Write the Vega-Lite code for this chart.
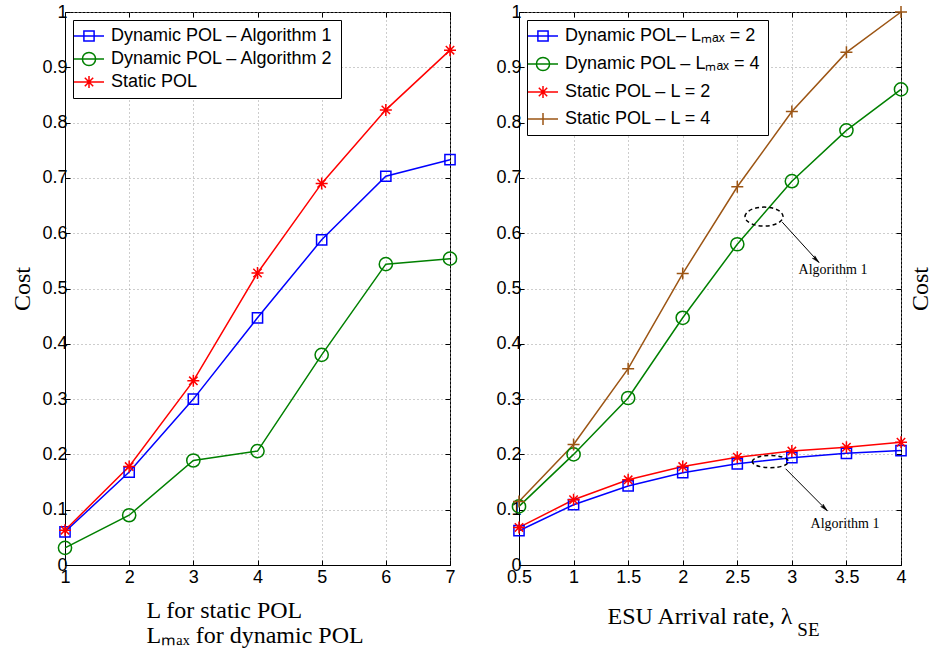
{
  "$schema": "https://vega.github.io/schema/vega-lite/v6.json",
  "padding": {"left": 10, "top": 2, "right": 0, "bottom": 0},
  "background": "white",
  "config": {
    "view": {"stroke": "black", "strokeWidth": 1},
    "axis": {
      "labelFont": "Liberation Sans", "labelFontSize": 18, "labelColor": "black", "labelFlush": false, "labelOverlap": false,
      "titleFont": "Liberation Serif", "titleFontSize": 24, "titleFontWeight": "normal", "titleColor": "black",
      "domainColor": "black", "tickColor": "black", "tickSize": -5, "labelPadding": 8,
      "gridColor": "#9a9a9a", "gridDash": [1, 3], "gridWidth": 1
    },
    "legend": {
      "labelFont": "Liberation Sans", "labelFontSize": 18, "labelColor": "black", "labelLimit": 400
    }
  },
  "datasets": {
    "left": [
      {"x": 1, "cost": 0.060, "series": "Dynamic POL – Algorithm 1"},
      {"x": 2, "cost": 0.168, "series": "Dynamic POL – Algorithm 1"},
      {"x": 3, "cost": 0.300, "series": "Dynamic POL – Algorithm 1"},
      {"x": 4, "cost": 0.447, "series": "Dynamic POL – Algorithm 1"},
      {"x": 5, "cost": 0.588, "series": "Dynamic POL – Algorithm 1"},
      {"x": 6, "cost": 0.703, "series": "Dynamic POL – Algorithm 1"},
      {"x": 7, "cost": 0.733, "series": "Dynamic POL – Algorithm 1"},
      {"x": 1, "cost": 0.031, "series": "Dynamic POL – Algorithm 2"},
      {"x": 2, "cost": 0.090, "series": "Dynamic POL – Algorithm 2"},
      {"x": 3, "cost": 0.189, "series": "Dynamic POL – Algorithm 2"},
      {"x": 4, "cost": 0.206, "series": "Dynamic POL – Algorithm 2"},
      {"x": 5, "cost": 0.380, "series": "Dynamic POL – Algorithm 2"},
      {"x": 6, "cost": 0.544, "series": "Dynamic POL – Algorithm 2"},
      {"x": 7, "cost": 0.554, "series": "Dynamic POL – Algorithm 2"},
      {"x": 1, "cost": 0.063, "series": "Static POL"},
      {"x": 2, "cost": 0.178, "series": "Static POL"},
      {"x": 3, "cost": 0.333, "series": "Static POL"},
      {"x": 4, "cost": 0.528, "series": "Static POL"},
      {"x": 5, "cost": 0.690, "series": "Static POL"},
      {"x": 6, "cost": 0.823, "series": "Static POL"},
      {"x": 7, "cost": 0.931, "series": "Static POL"}
    ],
    "right": [
      {"x": 0.5, "cost": 0.062, "series": "Dynamic POL– Lₘₐₓ = 2"},
      {"x": 1.0, "cost": 0.109, "series": "Dynamic POL– Lₘₐₓ = 2"},
      {"x": 1.5, "cost": 0.143, "series": "Dynamic POL– Lₘₐₓ = 2"},
      {"x": 2.0, "cost": 0.167, "series": "Dynamic POL– Lₘₐₓ = 2"},
      {"x": 2.5, "cost": 0.183, "series": "Dynamic POL– Lₘₐₓ = 2"},
      {"x": 3.0, "cost": 0.194, "series": "Dynamic POL– Lₘₐₓ = 2"},
      {"x": 3.5, "cost": 0.202, "series": "Dynamic POL– Lₘₐₓ = 2"},
      {"x": 4.0, "cost": 0.207, "series": "Dynamic POL– Lₘₐₓ = 2"},
      {"x": 0.5, "cost": 0.106, "series": "Dynamic POL – Lₘₐₓ = 4"},
      {"x": 1.0, "cost": 0.200, "series": "Dynamic POL – Lₘₐₓ = 4"},
      {"x": 1.5, "cost": 0.302, "series": "Dynamic POL – Lₘₐₓ = 4"},
      {"x": 2.0, "cost": 0.447, "series": "Dynamic POL – Lₘₐₓ = 4"},
      {"x": 2.5, "cost": 0.580, "series": "Dynamic POL – Lₘₐₓ = 4"},
      {"x": 3.0, "cost": 0.694, "series": "Dynamic POL – Lₘₐₓ = 4"},
      {"x": 3.5, "cost": 0.786, "series": "Dynamic POL – Lₘₐₓ = 4"},
      {"x": 4.0, "cost": 0.860, "series": "Dynamic POL – Lₘₐₓ = 4"},
      {"x": 0.5, "cost": 0.068, "series": "Static POL – L = 2"},
      {"x": 1.0, "cost": 0.118, "series": "Static POL – L = 2"},
      {"x": 1.5, "cost": 0.154, "series": "Static POL – L = 2"},
      {"x": 2.0, "cost": 0.178, "series": "Static POL – L = 2"},
      {"x": 2.5, "cost": 0.195, "series": "Static POL – L = 2"},
      {"x": 3.0, "cost": 0.206, "series": "Static POL – L = 2"},
      {"x": 3.5, "cost": 0.213, "series": "Static POL – L = 2"},
      {"x": 4.0, "cost": 0.222, "series": "Static POL – L = 2"},
      {"x": 0.5, "cost": 0.115, "series": "Static POL – L = 4"},
      {"x": 1.0, "cost": 0.218, "series": "Static POL – L = 4"},
      {"x": 1.5, "cost": 0.355, "series": "Static POL – L = 4"},
      {"x": 2.0, "cost": 0.527, "series": "Static POL – L = 4"},
      {"x": 2.5, "cost": 0.684, "series": "Static POL – L = 4"},
      {"x": 3.0, "cost": 0.820, "series": "Static POL – L = 4"},
      {"x": 3.5, "cost": 0.927, "series": "Static POL – L = 4"},
      {"x": 4.0, "cost": 1.000, "series": "Static POL – L = 4"}
    ],
    "ellipses": [
      {"x": 2.745, "cost": 0.630, "which": "upper"},
      {"x": 2.803, "cost": 0.187, "which": "lower"}
    ],
    "arrows": [
      {"x": 2.912, "cost": 0.620, "x2": 3.249, "cost2": 0.547, "label": "Algorithm 1", "tx": 3.377, "ty": 0.533},
      {"x": 2.943, "cost": 0.174, "x2": 3.325, "cost2": 0.098, "label": "Algorithm 1", "tx": 3.487, "ty": 0.075}
    ],
    "subscript": [
      {"x": 3.05, "cost": -0.128, "text": "SE"}
    ]
  },
  "spacing": 69,
  "bounds": "flush",
  "resolve": {
    "scale": {"color": "independent", "shape": "independent"},
    "legend": {"color": "independent", "shape": "independent"}
  },
  "hconcat": [
    {
      "width": 385,
      "height": 553,
      "data": {"name": "left"},
      "resolve": {"axis": {"x": "independent", "y": "independent"}},
      "layer": [
        {
          "mark": {"type": "line", "strokeWidth": 1.5},
          "encoding": {
            "x": {"field": "x", "type": "quantitative", "scale": {"domain": [1, 7], "nice": false},
              "axis": {"orient": "bottom", "values": [1, 2, 3, 4, 5, 6, 7], "grid": true,
                "title": ["L for static POL", "Lₘₐₓ for dynamic POL"], "titleFontSize": 24,
                "titleAlign": "left", "titleAnchor": "start", "titleX": 81, "titleY": 52,
                "titleBaseline": "alphabetic", "titleLineHeight": 25}},
            "y": {"field": "cost", "type": "quantitative", "scale": {"domain": [0, 1], "nice": false},
              "axis": {"orient": "left", "values": [0, 0.1, 0.2, 0.3, 0.4, 0.5, 0.6, 0.7, 0.8, 0.9, 1], "format": "~g",
                "grid": true, "title": "Cost", "titlePadding": 7, "labelPadding": 3}},
            "color": {"field": "series", "type": "nominal",
              "scale": {"domain": ["Dynamic POL – Algorithm 1", "Dynamic POL – Algorithm 2", "Static POL"],
                "range": ["#0000ff", "#008000", "#ff0000"]},
              "legend": {"title": null, "orient": "top-left", "offset": 8, "fillColor": "white", "strokeColor": "black",
                "padding": 7, "rowPadding": 4, "symbolSize": 144, "symbolStrokeWidth": 1.5, "symbolOffset": 0, "labelOffset": 13}}
          }
        },
        {
          "transform": [{"filter": "false"}],
          "mark": {"type": "point", "filled": false, "strokeWidth": 1.5, "size": 144, "opacity": 1},
          "encoding": {
            "x": {"field": "x", "type": "quantitative", "scale": {"domain": [1, 7], "nice": false},
              "axis": {"orient": "top", "values": [1, 2, 3, 4, 5, 6, 7], "labels": false, "grid": false, "domain": false, "title": null}},
            "y": {"field": "cost", "type": "quantitative", "scale": {"domain": [0, 1], "nice": false},
              "axis": {"orient": "right", "values": [0, 0.1, 0.2, 0.3, 0.4, 0.5, 0.6, 0.7, 0.8, 0.9, 1], "labels": false, "grid": false, "domain": false, "title": null}},
            "color": {"field": "series", "type": "nominal",
              "scale": {"domain": ["Dynamic POL – Algorithm 1", "Dynamic POL – Algorithm 2", "Static POL"],
                "range": ["#0000ff", "#008000", "#ff0000"]},
              "legend": {"title": null, "orient": "top-left", "offset": 8, "fillColor": "white", "strokeColor": "black",
                "padding": 7, "rowPadding": 4, "symbolSize": 144, "symbolStrokeWidth": 1.5, "symbolOffset": 0, "labelOffset": 13}},
            "shape": {"field": "series", "type": "nominal",
              "scale": {"domain": ["Dynamic POL – Algorithm 1", "Dynamic POL – Algorithm 2", "Static POL"],
                "range": ["M-0.85,-0.85H0.85V0.85H-0.85ZM-2.5,0H2.5", "M-1.1,0A1.1,1.1 0 1,1 1.1,0A1.1,1.1 0 1,1 -1.1,0ZM-2.5,0H2.5", "M0,-1V1M-1,0H1M-0.7,-0.7L0.7,0.7M-0.7,0.7L0.7,-0.7M-2.5,0H2.5"]},
              "legend": {"title": null, "orient": "top-left", "offset": 8, "fillColor": "white", "strokeColor": "black",
                "padding": 7, "rowPadding": 4, "symbolSize": 144, "symbolStrokeWidth": 1.5, "symbolOffset": 0, "labelOffset": 13}}
          }
        },
        {
          "transform": [{"filter": "datum.series === 'Dynamic POL – Algorithm 1'"}],
          "mark": {"type": "point", "shape": "M-0.85,-0.85H0.85V0.85H-0.85Z", "filled": false, "strokeWidth": 1.5, "size": 144, "opacity": 1},
          "encoding": {
            "x": {"field": "x", "type": "quantitative", "axis": null},
            "y": {"field": "cost", "type": "quantitative", "axis": null},
            "color": {"field": "series", "type": "nominal"}
          }
        },
        {
          "transform": [{"filter": "datum.series === 'Dynamic POL – Algorithm 2'"}],
          "mark": {"type": "point", "shape": "M-1.1,0A1.1,1.1 0 1,1 1.1,0A1.1,1.1 0 1,1 -1.1,0Z", "filled": false, "strokeWidth": 1.5, "size": 144, "opacity": 1},
          "encoding": {
            "x": {"field": "x", "type": "quantitative", "axis": null},
            "y": {"field": "cost", "type": "quantitative", "axis": null},
            "color": {"field": "series", "type": "nominal"}
          }
        },
        {
          "transform": [{"filter": "datum.series === 'Static POL'"}],
          "mark": {"type": "point", "shape": "M0,-1V1M-1,0H1M-0.7,-0.7L0.7,0.7M-0.7,0.7L0.7,-0.7", "filled": false, "strokeWidth": 1.5, "size": 144, "opacity": 1},
          "encoding": {
            "x": {"field": "x", "type": "quantitative", "axis": null},
            "y": {"field": "cost", "type": "quantitative", "axis": null},
            "color": {"field": "series", "type": "nominal"}
          }
        }
      ]
    },
    {
      "width": 382,
      "height": 553,
      "resolve": {"axis": {"x": "independent", "y": "independent"}},
      "layer": [
        {
          "data": {"name": "right"},
          "mark": {"type": "line", "strokeWidth": 1.5},
          "encoding": {
            "x": {"field": "x", "type": "quantitative", "scale": {"domain": [0.5, 4], "nice": false},
              "axis": {"orient": "bottom", "values": [0.5, 1, 1.5, 2, 2.5, 3, 3.5, 4], "format": "~g", "grid": true,
                "title": "ESU Arrival rate, λ", "titleAlign": "left", "titleAnchor": "start", "titleX": 88, "titleY": 58,
                "titleBaseline": "alphabetic"}},
            "y": {"field": "cost", "type": "quantitative", "scale": {"domain": [0, 1], "nice": false},
              "axis": {"orient": "left", "values": [0, 0.1, 0.2, 0.3, 0.4, 0.5, 0.6, 0.7, 0.8, 0.9, 1], "format": "~g",
                "grid": true, "title": null, "labelPadding": 3}},
            "color": {"field": "series", "type": "nominal",
              "scale": {"domain": ["Dynamic POL– Lₘₐₓ = 2", "Dynamic POL – Lₘₐₓ = 4", "Static POL – L = 2", "Static POL – L = 4"],
                "range": ["#0000ff", "#008000", "#ff0000", "#9c5514"]},
              "legend": {"title": null, "orient": "top-left", "offset": 8, "fillColor": "white", "strokeColor": "black",
                "padding": 7, "rowPadding": 9, "symbolSize": 144, "symbolStrokeWidth": 1.5, "symbolOffset": 0, "labelOffset": 13}}
          }
        },
        {
          "data": {"name": "right"},
          "transform": [{"filter": "false"}],
          "mark": {"type": "point", "filled": false, "strokeWidth": 1.5, "size": 144, "opacity": 1},
          "encoding": {
            "x": {"field": "x", "type": "quantitative", "scale": {"domain": [0.5, 4], "nice": false},
              "axis": {"orient": "top", "values": [0.5, 1, 1.5, 2, 2.5, 3, 3.5, 4], "labels": false, "grid": false, "domain": false, "title": null}},
            "y": {"field": "cost", "type": "quantitative", "scale": {"domain": [0, 1], "nice": false},
              "axis": {"orient": "right", "values": [0, 0.1, 0.2, 0.3, 0.4, 0.5, 0.6, 0.7, 0.8, 0.9, 1], "labels": false, "grid": false, "domain": false,
                "title": "Cost", "titleAngle": 270, "titleBaseline": "alphabetic", "titlePadding": 26}},
            "color": {"field": "series", "type": "nominal",
              "scale": {"domain": ["Dynamic POL– Lₘₐₓ = 2", "Dynamic POL – Lₘₐₓ = 4", "Static POL – L = 2", "Static POL – L = 4"],
                "range": ["#0000ff", "#008000", "#ff0000", "#9c5514"]},
              "legend": {"title": null, "orient": "top-left", "offset": 8, "fillColor": "white", "strokeColor": "black",
                "padding": 7, "rowPadding": 9, "symbolSize": 144, "symbolStrokeWidth": 1.5, "symbolOffset": 0, "labelOffset": 13}},
            "shape": {"field": "series", "type": "nominal",
              "scale": {"domain": ["Dynamic POL– Lₘₐₓ = 2", "Dynamic POL – Lₘₐₓ = 4", "Static POL – L = 2", "Static POL – L = 4"],
                "range": ["M-0.85,-0.85H0.85V0.85H-0.85ZM-2.5,0H2.5", "M-1.1,0A1.1,1.1 0 1,1 1.1,0A1.1,1.1 0 1,1 -1.1,0ZM-2.5,0H2.5", "M0,-1V1M-1,0H1M-0.7,-0.7L0.7,0.7M-0.7,0.7L0.7,-0.7M-2.5,0H2.5", "M0,-1V1M-1,0H1M-2.5,0H2.5"]},
              "legend": {"title": null, "orient": "top-left", "offset": 8, "fillColor": "white", "strokeColor": "black",
                "padding": 7, "rowPadding": 9, "symbolSize": 144, "symbolStrokeWidth": 1.5, "symbolOffset": 0, "labelOffset": 13}}
          }
        },
        {
          "data": {"name": "right"},
          "transform": [{"filter": "datum.series === 'Dynamic POL– Lₘₐₓ = 2'"}],
          "mark": {"type": "point", "shape": "M-0.85,-0.85H0.85V0.85H-0.85Z", "filled": false, "strokeWidth": 1.5, "size": 144, "opacity": 1},
          "encoding": {
            "x": {"field": "x", "type": "quantitative", "axis": null},
            "y": {"field": "cost", "type": "quantitative", "axis": null},
            "color": {"field": "series", "type": "nominal"}
          }
        },
        {
          "data": {"name": "right"},
          "transform": [{"filter": "datum.series === 'Dynamic POL – Lₘₐₓ = 4'"}],
          "mark": {"type": "point", "shape": "M-1.1,0A1.1,1.1 0 1,1 1.1,0A1.1,1.1 0 1,1 -1.1,0Z", "filled": false, "strokeWidth": 1.5, "size": 144, "opacity": 1},
          "encoding": {
            "x": {"field": "x", "type": "quantitative", "axis": null},
            "y": {"field": "cost", "type": "quantitative", "axis": null},
            "color": {"field": "series", "type": "nominal"}
          }
        },
        {
          "data": {"name": "right"},
          "transform": [{"filter": "datum.series === 'Static POL – L = 2'"}],
          "mark": {"type": "point", "shape": "M0,-1V1M-1,0H1M-0.7,-0.7L0.7,0.7M-0.7,0.7L0.7,-0.7", "filled": false, "strokeWidth": 1.5, "size": 144, "opacity": 1},
          "encoding": {
            "x": {"field": "x", "type": "quantitative", "axis": null},
            "y": {"field": "cost", "type": "quantitative", "axis": null},
            "color": {"field": "series", "type": "nominal"}
          }
        },
        {
          "data": {"name": "right"},
          "transform": [{"filter": "datum.series === 'Static POL – L = 4'"}],
          "mark": {"type": "point", "shape": "M0,-1V1M-1,0H1", "filled": false, "strokeWidth": 1.5, "size": 144, "opacity": 1},
          "encoding": {
            "x": {"field": "x", "type": "quantitative", "axis": null},
            "y": {"field": "cost", "type": "quantitative", "axis": null},
            "color": {"field": "series", "type": "nominal"}
          }
        },
        {
          "data": {"name": "ellipses"},
          "transform": [{"filter": "datum.which === 'upper'"}],
          "mark": {"type": "point", "shape": "M-1,0A1,0.5 0 1,1 1,0A1,0.5 0 1,1 -1,0Z", "size": 1444, "filled": false,
            "stroke": "black", "strokeWidth": 1.5, "strokeDash": [4, 3], "opacity": 1},
          "encoding": {
            "x": {"field": "x", "type": "quantitative", "axis": null},
            "y": {"field": "cost", "type": "quantitative", "axis": null}
          }
        },
        {
          "data": {"name": "ellipses"},
          "transform": [{"filter": "datum.which === 'lower'"}],
          "mark": {"type": "point", "shape": "M-0.95,0A0.95,0.32 0 1,1 0.95,0A0.95,0.32 0 1,1 -0.95,0Z", "size": 1444, "filled": false,
            "stroke": "black", "strokeWidth": 1.5, "strokeDash": [4, 3], "opacity": 1},
          "encoding": {
            "x": {"field": "x", "type": "quantitative", "axis": null},
            "y": {"field": "cost", "type": "quantitative", "axis": null}
          }
        },
        {
          "data": {"name": "arrows"},
          "mark": {"type": "rule", "stroke": "black", "strokeWidth": 1},
          "encoding": {
            "x": {"field": "x", "type": "quantitative", "axis": null},
            "y": {"field": "cost", "type": "quantitative", "axis": null},
            "x2": {"field": "x2"},
            "y2": {"field": "cost2"}
          }
        },
        {
          "data": {"name": "arrows"},
          "mark": {"type": "point", "shape": "M0,0L-0.5,2.2L0,1.7L0.5,2.2Z", "size": 49, "filled": true, "fill": "black", "stroke": "black", "strokeWidth": 0.5, "angle": 135, "opacity": 1},
          "encoding": {
            "x": {"field": "x2", "type": "quantitative", "axis": null},
            "y": {"field": "cost2", "type": "quantitative", "axis": null}
          }
        },
        {
          "data": {"name": "arrows"},
          "mark": {"type": "text", "font": "Liberation Serif", "fontSize": 14, "color": "black", "align": "center", "baseline": "middle"},
          "encoding": {
            "x": {"field": "tx", "type": "quantitative", "axis": null},
            "y": {"field": "ty", "type": "quantitative", "axis": null},
            "text": {"field": "label"}
          }
        },
        {
          "data": {"name": "subscript"},
          "mark": {"type": "text", "font": "Liberation Serif", "fontSize": 19, "color": "black", "align": "left", "baseline": "alphabetic"},
          "encoding": {
            "x": {"field": "x", "type": "quantitative", "axis": null},
            "y": {"field": "cost", "type": "quantitative", "axis": null},
            "text": {"field": "text"}
          }
        }
      ]
    }
  ]
}
